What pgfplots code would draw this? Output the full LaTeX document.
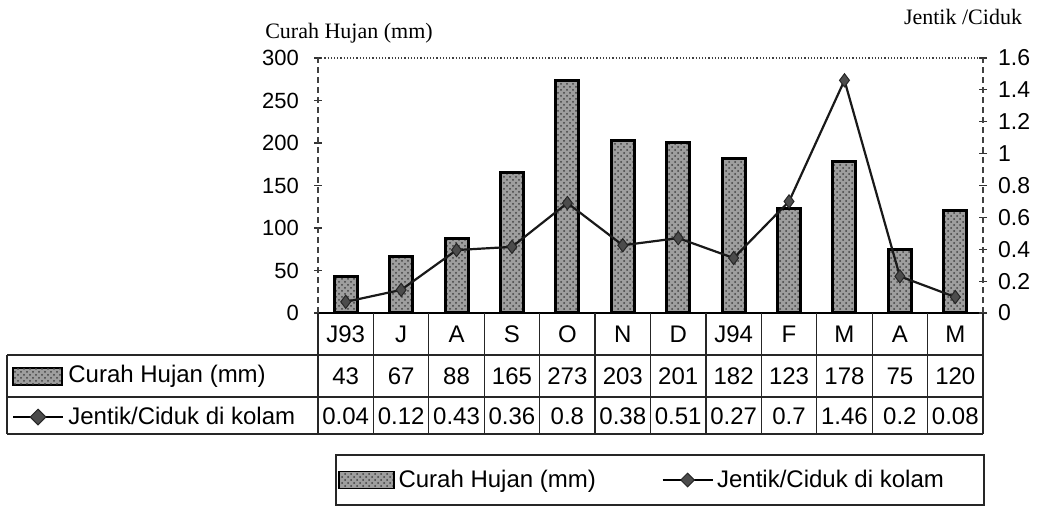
\documentclass[border=0pt]{standalone}
\usepackage{fontspec}
\setmainfont{Liberation Sans}
\newfontfamily\seriffont{Liberation Serif}
\usepackage{pgfplots}
\usepackage{pgfplotstable}
\pgfplotsset{compat=1.18}
\usetikzlibrary{patterns,shapes.geometric}

\pgfplotstableread{
x rain larva
0 43 0.07
1 67 0.145
2 88 0.395
3 165 0.415
4 273 0.69
5 203 0.425
6 201 0.47
7 182 0.345
8 123 0.70
9 178 1.46
10 75 0.23
11 120 0.10
}\data

\tikzset{
  barstyle/.style={draw=black, line width=1.5pt, fill=black!38,
    postaction={pattern=crosshatch dots, pattern color=black!75}},
  linestyle/.style={black!90, line width=1.1pt, mark=diamond*, mark size=3.3pt,
    mark options={fill=black!70, draw=black!85, line width=0.5pt}},
}

\begin{document}
\begin{tikzpicture}[x=0.5pt,y=-0.5pt]
\path[use as bounding box] (0,0) rectangle (1043,507);
\coordinate (O) at (318,313);

\begin{axis}[
  at={(O)}, anchor=south west, scale only axis,
  width=332.5pt, height=127.5pt,
  xmin=-0.5, xmax=11.5, ymin=0, ymax=300,
  ytick={0,50,100,150,200,250,300},
  xtick=\empty,
  axis y line*=left, axis x line*=bottom,
  x axis line style={-, black, line width=0.8pt},
  y axis line style={-, densely dashed, black!75, line width=0.6pt},
  tick align=center, major tick length=4pt,
  ytick style={black!80, line width=0.6pt},
  /pgf/number format/assume math mode=true,
  yticklabel style={font=\fontsize{11}{13}\selectfont, xshift=-4pt},
  clip=false,
]
\addplot[ybar, bar width=11.5pt, barstyle] table[x=x,y=rain]{\data};
\draw[densely dotted, black!75, line width=0.6pt] (rel axis cs:0,1) -- (rel axis cs:1,1);
\end{axis}

\begin{axis}[
  at={(O)}, anchor=south west, scale only axis,
  width=332.5pt, height=127.5pt,
  xmin=-0.5, xmax=11.5, ymin=0, ymax=1.6,
  ytick={0,0.2,0.4,0.6,0.8,1,1.2,1.4,1.6},
  xtick=\empty,
  axis y line*=right, axis x line=none,
  y axis line style={-, densely dashed, black!75, line width=0.6pt},
  tick align=center, major tick length=4pt,
  ytick style={black!80, line width=0.6pt},
  /pgf/number format/assume math mode=true,
  yticklabel style={font=\fontsize{11.5}{13}\selectfont, xshift=2pt,
    /pgf/number format/fixed, /pgf/number format/precision=1},
  legend columns=2,
  legend style={draw=none, fill=none, inner sep=0pt, anchor=west,
    at={(0.030,-0.655)}, font=\fontsize{12}{14}\selectfont,
    /tikz/every even column/.append style={column sep=31pt}},
  clip=false,
]
\addlegendimage{legend image code/.code={
  \draw[draw=black, line width=0.6pt, fill=black!38,
    postaction={pattern=crosshatch dots, pattern color=black!75}]
    (0pt,-4.25pt) rectangle (27.5pt,4.25pt);}}
\addlegendentry{Curah Hujan (mm)}
\addlegendimage{legend image code/.code={
  \draw[black, line width=0.6pt] (0pt,0pt) -- (25pt,0pt);
  \path (12.5pt,0pt) node[diamond, fill=black!70, draw=black!85, line width=0.5pt, inner sep=0pt, minimum size=7pt] {};}}
\addlegendentry{Jentik/Ciduk di kolam}
\addplot[linestyle] table[x=x,y=larva]{\data};
\end{axis}

% axis titles
\node[font=\seriffont\fontsize{11}{13}\selectfont] at (349,33) {Curah Hujan (mm)};
\node[font=\seriffont\fontsize{11}{13}\selectfont] at (963,17) {Jentik /Ciduk};

% data table
\begin{scope}[line width=0.6pt, black!85]
\foreach \k in {0,...,12} {
  \draw (318+55.4167*\k,313) -- (318+55.4167*\k,434);
}
\draw (7,355) -- (983,355);
\draw (7,397) -- (983,397);
\draw (7,434) -- (983,434);
\draw (7,355) -- (7,434);
\end{scope}

\begin{scope}[every node/.style={font=\fontsize{12}{14}\selectfont, inner sep=0pt}]
\foreach \lab [count=\i from 0] in {J93,J,A,S,O,N,D,J94,F,M,A,M} {
  \node at (318+55.4167*\i+27.708,334) {\lab};
}
\foreach \v [count=\i from 0] in {43,67,88,165,273,203,201,182,123,178,75,120} {
  \node at (318+55.4167*\i+27.708,376) {\v};
}
\foreach \v [count=\i from 0] in {0.04,0.12,0.43,0.36,0.8,0.38,0.51,0.27,0.7,1.46,0.2,0.08} {
  \node at (318+55.4167*\i+27.708,416) {\v};
}
\node[anchor=west] at (68,376) {Curah Hujan (mm)};
\node[anchor=west] at (68,416) {Jentik/Ciduk di kolam};
\end{scope}
\draw[draw=black, line width=0.6pt, fill=black!38,
  postaction={pattern=crosshatch dots, pattern color=black!75}] (13,368) rectangle (62,385);
\draw[black, line width=0.6pt] (13,417) -- (63,417);
\path (38,417) node[diamond, fill=black!70, draw=black!85, line width=0.5pt, inner sep=0pt, minimum size=8pt] {};

% legend box
\draw[black!85, line width=0.6pt] (336,455) rectangle (984,505);
\end{tikzpicture}
\end{document}
